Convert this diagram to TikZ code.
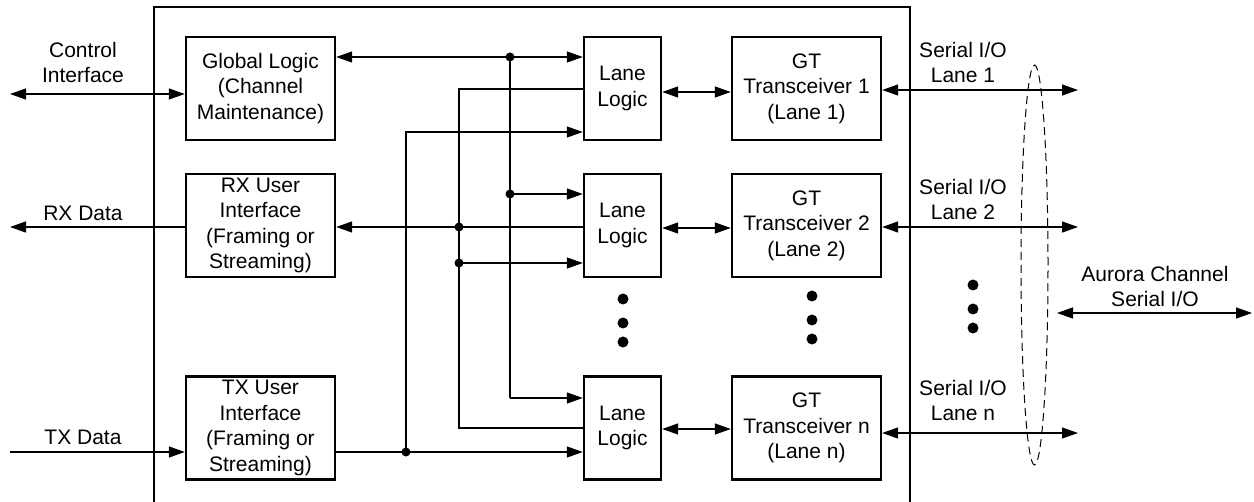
\documentclass[tikz,border=0pt]{standalone}
\usepackage{fontspec}
\setmainfont{Liberation Sans}
\usetikzlibrary{arrows.meta}
\begin{document}
\begin{tikzpicture}[x=1pt,y=-1pt,
  >={Triangle[length=16pt,width=11pt]},
  txt/.style={font=\fontsize{21}{25.5}\selectfont},
  blk/.style={draw, line width=2.4pt, align=center, inner sep=0pt, minimum width=149pt, minimum height=103pt, txt},
  lane/.style={blk, minimum width=77pt},
  lbl/.style={align=center, inner sep=0pt, txt},
  con/.style={line width=1.3pt},
  jdot/.style={fill=black},
]
\useasboundingbox (0,0) rectangle (1254,502);
% core outline
\draw[line width=2.4pt] (154,530) -- (154,7) -- (910,7) -- (910,530);

% blocks
\node[blk] (GL) at (260.5,88.5) {Global Logic\\(Channel\\Maintenance)};
\node[blk] (RX) at (260.5,225.5) {RX User\\Interface\\(Framing or\\Streaming)};
\node[blk] (TX) at (260.5,428) {TX User\\Interface\\(Framing or\\Streaming)};
\node[lane] (LL1) at (622.5,88.5) {Lane\\Logic};
\node[lane] (LL2) at (622.5,225.5) {Lane\\Logic};
\node[lane] (LLn) at (622.5,428) {Lane\\Logic};
\node[blk] (GT1) at (806.5,88.5) {GT\\Transceiver 1\\(Lane 1)};
\node[blk] (GT2) at (806.5,225.5) {GT\\Transceiver 2\\(Lane 2)};
\node[blk] (GTn) at (806.5,428) {GT\\Transceiver n\\(Lane n)};

% labels
\node[lbl] (lci) at (83,62.5) {Control\\Interface};
\node[lbl] (lrx) at (83,213) {RX Data};
\node[lbl] (ltx) at (83,437) {TX Data};
\node[lbl] (ls1) at (963,62.5) {Serial I/O\\Lane 1};
\node[lbl] (ls2) at (963,199.5) {Serial I/O\\Lane 2};
\node[lbl] (lsn) at (963,400.5) {Serial I/O\\Lane n};
\node[lbl] (lau) at (1155,286.5) {Aurora Channel\\Serial I/O};

% external connectors
\coordinate (ci) at (10,94);
\coordinate (rxo) at (10,227);
\coordinate (txi) at (10,452);
\draw[con,<->] (ci) -- (GL.west |- ci);
\draw[con,->] (RX.west |- rxo) -- (rxo);
\draw[con,->] (txi) -- (TX.west |- txi);

% global logic bus
\coordinate (a1) at (510,57);
\coordinate (a2) at (510,194);
\coordinate (a3) at (510,398);
\draw[con,<->] (GL.east |- a1) -- (LL1.west |- a1);
\draw[con] (a1) -- (a3);
\draw[con,->] (a3) -- (LLn.west |- a3);
\draw[con,->] (a2) -- (LL2.west |- a2);
\fill[jdot] (a1) circle[radius=4.5pt];
\fill[jdot] (a2) circle[radius=4.5pt];

% RX bus
\coordinate (b1) at (459,89);
\coordinate (b2) at (459,227);
\coordinate (b3) at (459,263);
\coordinate (b4) at (459,428);
\draw[con] (LL1.west |- b1) -- (b1) -- (b4) -- (LLn.west |- b4);
\draw[con,->] (LL2.west |- b2) -- (RX.east |- b2);
\draw[con,->] (b3) -- (LL2.west |- b3);
\fill[jdot] (b2) circle[radius=4.5pt];
\fill[jdot] (b3) circle[radius=4.5pt];

% TX bus
\coordinate (c1) at (406,452);
\coordinate (c2) at (406,132);
\draw[con,->] (TX.east |- c1) -- (LLn.west |- c1);
\draw[con,->] (c1) -- (c2) -- (LL1.west |- c2);
\fill[jdot] (c1) circle[radius=4.5pt];

% lane logic <-> GT
\draw[con,<->] ([yshift=-3.5pt]LL1.east) -- ([yshift=-3.5pt]GT1.west);
\draw[con,<->] ([yshift=-2.5pt]LL2.east) -- ([yshift=-2.5pt]GT2.west);
\draw[con,<->] ([yshift=-1pt]LLn.east) -- ([yshift=-1pt]GTn.west);

% serial I/O
\coordinate (s1) at (1078,90);
\coordinate (s2) at (1078,227);
\coordinate (s3) at (1078,433);
\draw[con,<->] (GT1.east |- s1) -- (s1);
\draw[con,<->] (GT2.east |- s2) -- (s2);
\draw[con,<->] (GTn.east |- s3) -- (s3);

% aurora channel
\coordinate (au1) at (1057,313);
\coordinate (au2) at (1252,313);
\draw[con,<->] (au1) -- (au2);

% dashed ellipse
\draw[line width=1pt, dash pattern=on 8pt off 5pt] (1034.5,265) ellipse [x radius=13.5pt, y radius=200pt];

% ellipsis dots
\foreach \y in {299,323,342} \fill (623,\y) circle[radius=5.5pt];
\foreach \y in {296,320,339} \fill (812,\y) circle[radius=5.5pt];
\foreach \y in {285,309,328} \fill (973,\y) circle[radius=5.5pt];
\end{tikzpicture}
\end{document}
